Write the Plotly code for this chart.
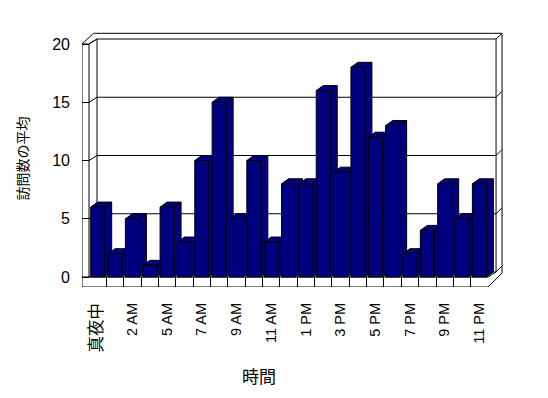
import plotly.graph_objects as go

# ---- data ----
hours = ["真夜中", "1 AM", "2 AM", "3 AM", "5 AM", "6 AM", "7 AM", "8 AM", "9 AM",
         "10 AM", "11 AM", "正午", "1 PM", "2 PM", "3 PM", "4 PM", "5 PM", "6 PM",
         "7 PM", "8 PM", "9 PM", "10 PM", "11 PM"]
visits = [6, 2, 5, 1, 6, 3, 10, 15, 5, 10, 3, 8, 8, 16, 9, 18, 12, 13, 2, 4, 8, 5, 8]
y_ticks = [0, 5, 10, 15, 20]
x_title = "時間"
y_title = "訪問数の平均"

# ---- geometry (style) ----
W, H = 548, 398
OFF = 8                      # page body margin compensation
ML, MT = 82 - OFF, 30 - OFF
PW, PH = 423, 257            # plot area size in px
MR, MB = W - ML - PW, H - MT - PH
PXX = 17.35          # px per category
PXY = 11.65          # px per value unit
n = len(hours)
X0, X1 = -0.5, n - 0.5
WT = 7 / PXX                 # left wall thickness
DX, DY = 8 / PXX, 5 / PXY     # wall depth offset
BX, BY = 6 / PXX, 6 / PXY     # back wall thickness
FT = 10 / PXY                 # floor thickness
BW = 14 / PXX                 # bar front width
BDX, BDY = 7 / PXX, 5 / PXY   # bar depth
YTOP = y_ticks[-1]
NAVY = "#000080"

xr = [X0 - WT, X0 - WT + PW / PXX]
yr = [-FT, PH / PXY - FT]

fig = go.Figure()

# sides and tops of the bars (drawn beneath the front faces)
for i, v in enumerate(visits):
    xl, xrt = i - BW / 2, i + BW / 2
    A = (xl, v); B = (xl + BDX, v + BDY); C = (xrt + BDX, v + BDY)
    D = (xrt, v); E = (xrt + BDX, BDY); F = (xrt, 0)
    pts = [C, B, A, D, C, E, F, D]
    fig.add_trace(go.Scatter(
        x=[p[0] for p in pts], y=[p[1] for p in pts], mode="lines",
        fill="toself", fillcolor=NAVY, line=dict(color="black", width=1),
        hoverinfo="skip", showlegend=False))

# front faces
fig.add_trace(go.Bar(x=list(range(n)), y=visits, width=BW, xaxis="x2", yaxis="y2",
                     marker=dict(color=NAVY, line=dict(color="black", width=1)),
                     hovertext=hours, showlegend=False))

shapes = []
def seg(x0, y0, x1, y1):
    shapes.append(dict(type="line", xref="x", yref="y", x0=x0, y0=y0, x1=x1, y1=y1,
                       line=dict(color="black", width=1), layer="below"))

# left wall front
seg(X0 - WT, YTOP, X0 - WT, -FT)
seg(X0, YTOP, X0, 0)
seg(X0 - WT, YTOP, X0, YTOP)
# wall tops
OX, OY = 11.6 / PXX, 10.7 / PXY
seg(X0 - WT, YTOP, X0 - WT + OX, YTOP + OY)
seg(X0 - WT + OX, YTOP + OY, X1 + DX + BX, YTOP + OY)
seg(X0, YTOP, X0 + DX, YTOP + DY)
seg(X1 + DX, YTOP + DY, X1 + DX + BX, YTOP + OY)
# back wall inner
seg(X0 + DX, DY, X0 + DX, YTOP + DY)
seg(X1 + DX, DY, X1 + DX, YTOP + DY)
# back wall outer right
seg(X1 + DX + BX, YTOP + OY, X1 + DX + BX, DY - 1 / PXY)
seg(X1 + DX + BX, DY - 1 / PXY, X1, -FT)
# floor
seg(X0 - WT, 0, X1, 0)
seg(X0 - WT, -FT, X1, -FT)
seg(X1, 0, X1 + DX, DY)
# gridlines
for v in y_ticks:
    seg(X0 + DX, v + DY, X1 + DX, v + DY)
    seg(X0, v, X0 + DX, v + DY)
    if v < YTOP:
        seg(X1 + DX, v + DY, X1 + DX + BX, v + DY + BY)

tick_idx = list(range(0, n, 2))
tick_text = []
for i in tick_idx:
    t = hours[i]
    if not t.isascii():
        t = "<span style='font-size:16.5px'>" + t + "</span>"
    tick_text.append(t)

fig.update_layout(
    template="none",
    width=W, height=H, autosize=False,
    margin=dict(l=ML, r=MR, t=MT, b=MB, autoexpand=False),
    paper_bgcolor="white", plot_bgcolor="white",
    shapes=shapes, showlegend=False,
    font=dict(family="Liberation Sans, Arial, Noto Sans CJK JP", color="black"),
    xaxis=dict(range=xr, showgrid=False, zeroline=False, showline=False, automargin=False,
               tickmode="array", tickvals=tick_idx, ticktext=tick_text,
               tickangle=-90, ticks="", ticklabelstandoff=12,
               tickfont=dict(size=14.5, color="black",
                             family="Liberation Sans, Arial, Noto Sans CJK JP"),
               minor=dict(tickmode="array", tickvals=[k - 0.5 for k in range(1, n)],
                          ticks="inside", ticklen=10, tickcolor="black", tickwidth=1,
                          showgrid=False)),
    yaxis=dict(range=yr, showgrid=False, zeroline=False, showline=False, automargin=False,
               tickmode="array", tickvals=y_ticks, ticks="inside", ticklen=7,
               tickcolor="black", tickwidth=1, ticklabelstandoff=11,
               tickfont=dict(size=16, color="black"),
               title=dict(text=y_title, standoff=20,
                          font=dict(size=14, color="black", family="Noto Sans CJK JP"))),
    xaxis2=dict(overlaying="x", matches="x", visible=False),
    yaxis2=dict(overlaying="y", matches="y", visible=False),
    annotations=[dict(text=x_title, xref="paper", yref="paper",
                      x=(259 - OFF - ML) / PW, y=(MT + PH - (375 - OFF)) / PH,
                      xanchor="center", yanchor="middle", showarrow=False,
                      font=dict(size=17, color="black", family="Noto Sans CJK JP"))],
)

fig.write_html("out.html")
